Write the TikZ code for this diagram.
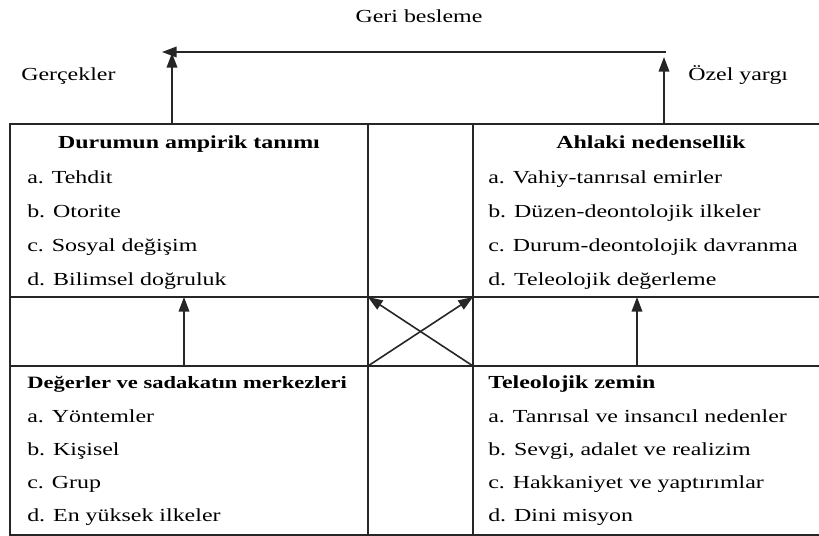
\documentclass[tikz,border=0pt]{standalone}
\usepackage{fontspec}
\setmainfont{Liberation Serif}[FakeStretch=1.3]
\usetikzlibrary{arrows.meta}
\begin{document}
\begin{tikzpicture}[x=0.75pt,y=-0.75pt,
  grid/.style={line width=1.2pt,line cap=rect,draw=black!85},
  link/.style={line width=1.2pt,draw=black!85,-{Triangle[length=11pt,width=8pt]}},
  lbl/.style={anchor=base west,inner sep=0pt,font=\fontsize{13.8pt}{16pt}\selectfont},
  ttl/.style={anchor=base,inner sep=0pt,font=\fontsize{13.8pt}{16pt}\selectfont\bfseries},
  ttlw/.style={anchor=base west,inner sep=0pt,font=\fontsize{13.8pt}{16pt}\selectfont\bfseries},
]
\useasboundingbox (0,0) rectangle (819,536);

% frame of the four quadrants and the linking band
\draw[grid] (822,124) -- (10,124) -- (10,535) -- (822,535);
\draw[grid] (10,297) -- (822,297);
\draw[grid] (10,366) -- (822,366);
\draw[grid] (368,124) -- (368,535);
\draw[grid] (473,124) -- (473,535);

% anchor points for the connectors
\coordinate (tlTop) at (172,124);
\coordinate (trTop) at (664,124);
\coordinate (fbL) at (172,53);
\coordinate (fbR) at (664,57);
\coordinate (fbStart) at (666,52);
\coordinate (fbEnd) at (162,52);
\coordinate (tlBot) at (184,297);
\coordinate (blTop) at (184,366);
\coordinate (trBot) at (637,297);
\coordinate (brTop) at (637,366);
\coordinate (cTL) at (368,297);
\coordinate (cTR) at (473,297);
\coordinate (cBL) at (368,366);
\coordinate (cBR) at (473,366);

% feedback loop on top
\node[ttl,font=\fontsize{13.8pt}{16pt}\selectfont] (geri) at (419,22) {Geri besleme};
\node[lbl] (gercek) at (21,80) {Gerçekler};
\node[lbl] (ozel) at (688,80) {Özel yargı};
\draw[link] (tlTop) -- (fbL);
\draw[link] (trTop) -- (fbR);
\draw[link] (fbStart) -- (fbEnd);

% top-left quadrant
\node[ttl] (dat) at (189,148) {Durumun ampirik tanımı};
\node[lbl] (dat1) at (27,183) {a. Tehdit};
\node[lbl] (dat2) at (27,217) {b. Otorite};
\node[lbl] (dat3) at (27,251) {c. Sosyal değişim};
\node[lbl] (dat4) at (27,285) {d. Bilimsel doğruluk};

% top-right quadrant
\node[ttl] (an) at (651,148) {Ahlaki nedensellik};
\node[lbl] (an1) at (488,183) {a. Vahiy-tanrısal emirler};
\node[lbl] (an2) at (488,217) {b. Düzen-deontolojik ilkeler};
\node[lbl] (an3) at (488,251) {c. Durum-deontolojik davranma};
\node[lbl] (an4) at (488,285) {d. Teleolojik değerleme};

% bottom-left quadrant
\node[ttlw,font=\fontsize{13pt}{16pt}\selectfont\bfseries] (dsm) at (27,388) {Değerler ve sadakatın merkezleri};
\node[lbl] (dsm1) at (27,422) {a. Yöntemler};
\node[lbl] (dsm2) at (27,455) {b. Kişisel};
\node[lbl] (dsm3) at (27,488) {c. Grup};
\node[lbl] (dsm4) at (27,521) {d. En yüksek ilkeler};

% bottom-right quadrant
\node[ttlw] (tz) at (488,388) {Teleolojik zemin};
\node[lbl] (tz1) at (488,422) {a. Tanrısal ve insancıl nedenler};
\node[lbl] (tz2) at (488,455) {b. Sevgi, adalet ve realizim};
\node[lbl] (tz3) at (488,488) {c. Hakkaniyet ve yaptırımlar};
\node[lbl] (tz4) at (488,521) {d. Dini misyon};

% links through the middle band
\draw[link] (blTop) -- (tlBot);
\draw[link] (brTop) -- (trBot);
\draw[link] (cBL) -- (cTR);
\draw[link] (cBR) -- (cTL);
\end{tikzpicture}
\end{document}
